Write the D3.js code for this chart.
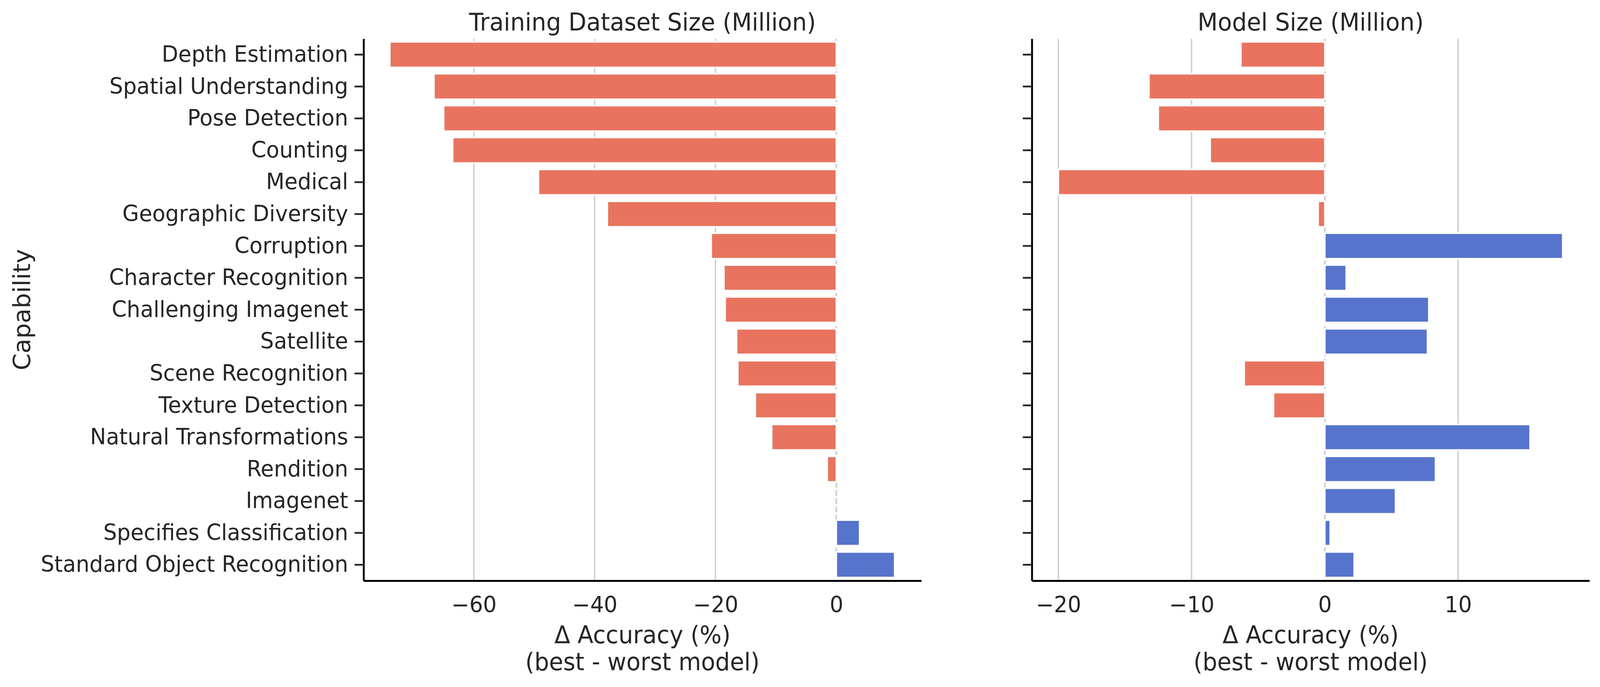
<!DOCTYPE html>
<html>
<head>
  <meta charset="UTF-8">
  <title>Capability delta accuracy</title>
  <style>
    html, body{
        margin: 0;
        padding: 0;
        overflow: hidden;
        background-color: #fff;
    }
    svg{
        display: block;
        width: 100vw;
        height: 100vh;
    }
    text{
        font-family: "DejaVu Sans", sans-serif;
        fill: #262626;
    }
  </style>
</head>
<body>
<svg></svg>
<script src="https://cdn.jsdelivr.net/npm/d3@7"></script>

<script>

let width = 4251, height = 1758;

// capabilities, top to bottom
let capabilities = ["Depth Estimation", "Spatial Understanding", "Pose Detection", "Counting",
    "Medical", "Geographic Diversity", "Corruption", "Character Recognition",
    "Challenging Imagenet", "Satellite", "Scene Recognition", "Texture Detection",
    "Natural Transformations", "Rendition", "Imagenet", "Specifies Classification",
    "Standard Object Recognition"];

// delta accuracy (best - worst model), %
let datasetDelta = [-73.9, -66.6, -65.0, -63.5, -49.3, -37.9, -20.7, -18.6,
    -18.4, -16.5, -16.3, -13.4, -10.7, -1.5, 0.0, 3.85, 9.65];
let modelDelta = [-6.3, -13.2, -12.5, -8.6, -20.0, -0.5, 17.85, 1.6,
    7.8, 7.7, -6.05, -3.85, 15.4, 8.3, 5.3, 0.4, 2.2];

let datasetTicks = [-60, -40, -20, 0];
let modelTicks = [-20, -10, 0, 10];

let titles = ["Training Dataset Size (Million)", "Model Size (Million)"];

let neg = "#e8745f", pos = "#5674cc";

let svg = d3.select("svg")
    .attr("viewBox", "0 0 " + width + " " + height)
    .attr("preserveAspectRatio", "none");

let plotTop = 99, plotBottom = 1486;

let y = d3.scaleBand()
    .domain(capabilities)
    .range([plotTop, plotBottom])
    .paddingInner(0.2)
    .paddingOuter(0.1);

let panels = [
    {values: datasetDelta, ticks: datasetTicks, domain: [-78.25, 14.08], left: 966, right: 2448, title: titles[0], labels: true},
    {values: modelDelta, ticks: modelTicks, domain: [-21.99, 19.86], left: 2741.5, right: 4223, title: titles[1], labels: false}
];

panels.forEach(p => {
    let x = d3.scaleLinear().domain(p.domain).range([p.left, p.right]);
    let g = svg.append("g");

    // grid
    g.selectAll(".grid")
        .data(p.ticks.filter(t => t !== 0))
        .enter().append("line")
        .attr("x1", d => x(d)).attr("x2", d => x(d))
        .attr("y1", plotTop).attr("y2", plotBottom)
        .attr("stroke", "#cccccc")
        .attr("stroke-width", 3.5);

    // zero line
    g.append("line")
        .attr("x1", x(0)).attr("x2", x(0))
        .attr("y1", plotTop).attr("y2", plotBottom)
        .attr("stroke", "#cccccc")
        .attr("stroke-width", 4)
        .attr("stroke-dasharray", "15,6");

    // bars
    g.selectAll(".bar")
        .data(p.values.map((v, i) => ({cap: capabilities[i], v: v})))
        .enter().append("rect")
        .attr("x", d => x(Math.min(0, d.v)))
        .attr("width", d => Math.abs(x(d.v) - x(0)))
        .attr("y", d => y(d.cap))
        .attr("height", y.bandwidth())
        .attr("fill", d => d.v < 0 ? neg : pos)
        .attr("stroke", "#fff")
        .attr("stroke-width", d => d.v === 0 ? 0 : 4);

    // y axis
    let ya = g.append("g")
        .attr("transform", "translate(" + p.left + ",0)")
        .call(d3.axisLeft(y).tickSize(24).tickPadding(17).tickSizeOuter(0));
    ya.select(".domain").attr("stroke", "#000").attr("stroke-width", 5);
    ya.selectAll(".tick line").attr("stroke", "#262626").attr("stroke-width", 4.5);
    ya.selectAll(".tick text")
        .attr("font-size", 57)
        .attr("fill", "#262626")
        .attr("font-family", "DejaVu Sans");
    if (!p.labels) ya.selectAll(".tick text").remove();

    // x axis
    let xa = g.append("g")
        .attr("transform", "translate(0," + plotBottom + ")")
        .call(d3.axisBottom(x).tickValues(p.ticks).tickSize(0).tickPadding(41).tickSizeOuter(0));
    xa.select(".domain").attr("stroke", "#000").attr("stroke-width", 5);
    xa.selectAll(".tick text")
        .attr("font-size", 57)
        .attr("fill", "#262626")
        .attr("font-family", "DejaVu Sans");

    let cx = (p.left + p.right) / 2;

    g.append("text")
        .attr("x", cx).attr("y", 78)
        .attr("text-anchor", "middle")
        .attr("font-size", 62)
        .text(p.title);

    g.append("text")
        .attr("x", cx).attr("y", 1646)
        .attr("text-anchor", "middle")
        .attr("font-size", 61.5)
        .text("\u0394 Accuracy (%)");

    g.append("text")
        .attr("x", cx).attr("y", 1715)
        .attr("text-anchor", "middle")
        .attr("font-size", 61.5)
        .text("(best - worst model)");
});

svg.append("text")
    .attr("transform", "translate(80," + (plotTop + plotBottom) / 2 + ") rotate(-90)")
    .attr("text-anchor", "middle")
    .attr("font-size", 62)
    .text("Capability");

</script>

</body>
</html>
